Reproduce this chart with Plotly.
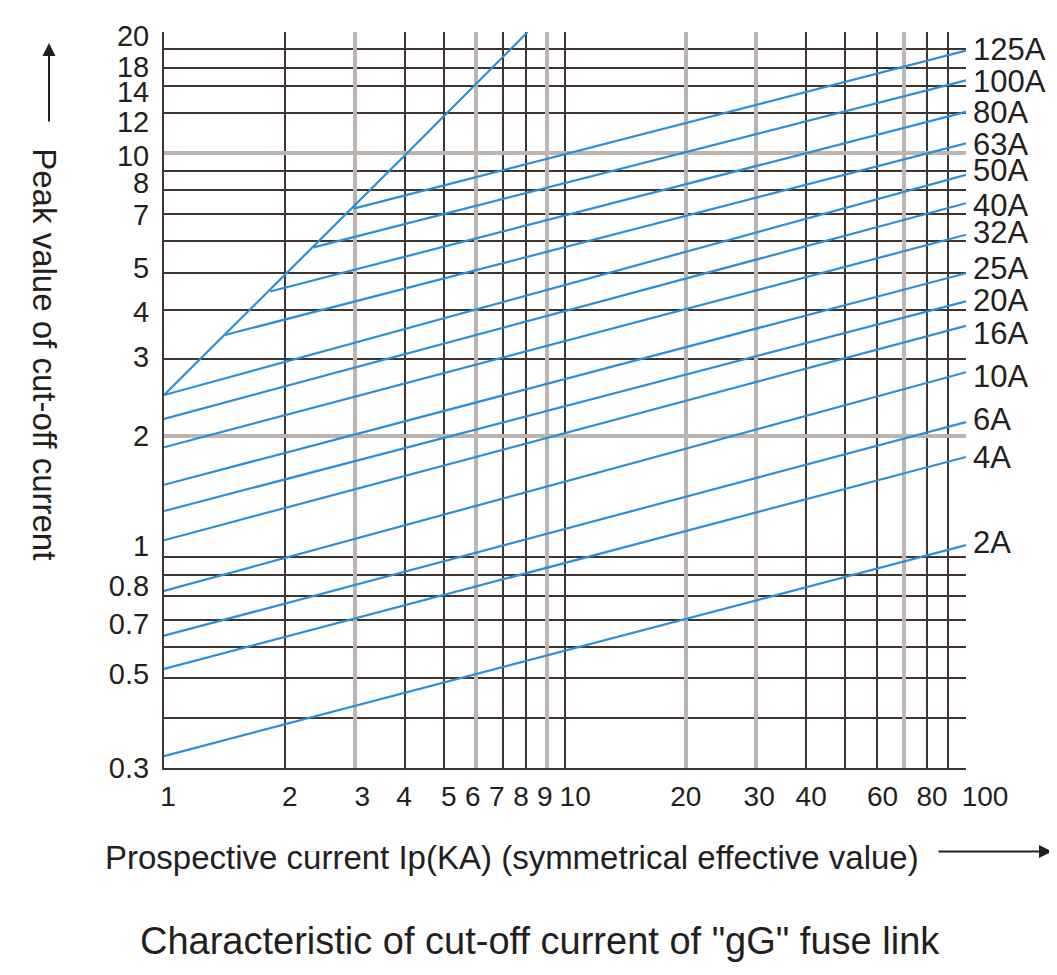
import math
import plotly.graph_objects as go

# ---------------- data ----------------
fuse_labels = ["125A", "100A", "80A", "63A", "50A", "40A", "32A", "25A",
               "20A", "16A", "10A", "6A", "4A", "2A"]
start_x = [2.97, 2.36, 1.84, 1.42, 1, 1, 1, 1, 1, 1, 1, 1, 1, 1]
start_y = [7.3, 5.85, 4.55, 3.55, 2.52, 2.20, 1.87, 1.51, 1.30, 1.10,
           0.824, 0.638, 0.528, 0.321]
end_x = [100] * 14
end_y = [17.98, 15.17, 12.68, 10.59, 8.85, 7.53, 6.29, 5.05, 4.30, 3.74,
         2.87, 2.16, 1.77, 1.07]
label_y = [18.08, 15.11, 12.62, 10.54, 9.06, 7.42, 6.38, 5.18, 4.33, 3.58,
           2.80, 2.19, 1.76, 1.084]

envelope_x = [1, 4.03, 8.07]
envelope_y = [2.52, 10.0, 20]

x_dark_grid = [1, 2, 4, 5, 7, 8, 10, 40, 50, 60, 80, 90, 100]
x_grey_grid = [3, 6, 9, 20, 30, 70]
x_label_vals = [1.023, 2.06, 3.12, 3.97, 5.13, 5.89, 6.76, 7.77, 8.91, 10.6,
                20.0, 30.5, 41.1, 61.9, 82.3]
x_label_text = ["1", "2", "3", "4", "5", "6", "7", "8", "9", "10", "20",
                "30", "40", "60", "80"]
x_end_label_vals = [100]
x_end_label_text = ["100"]

y_dark_grid = [0.3, 0.4, 0.5, 0.6, 0.7, 0.8, 0.9, 1, 3.1, 4.1, 5.05, 6.08,
               7.1, 8.1, 9.05, 12.6, 14.7, 16.3, 18.1]
y_grey_grid = [2, 10, 20]
y_label_vals = [0.3, 0.514, 0.683, 0.847, 1.063, 2.0, 3.13, 4.04, 5.21,
                7.04, 8.44, 9.84, 12.0, 14.21, 16.37, 19.59]
y_label_text = ["0.3", "0.5", "0.7", "0.8", "1", "2", "3", "4", "5", "7",
                "8", "10", "12", "14", "18", "20"]

# ---------------- styles ----------------
BLUE = "#2a8fd8"
DARK = "#3f3430"
GREY = "#bdb5b1"
TEXT = "#231f20"
FONT = "Liberation Sans, Arial, sans-serif"

OFF = 8                      # default page margin around the figure
W, H = 1057 - OFF, 975 - 2 * OFF
ML, MT = 164 - OFF, 28 - OFF
MR = W - (966 - OFF)
MB = H - (768 - OFF)
PW, PH = W - ML - MR, H - MT - MB

fig = go.Figure()
for i, name in enumerate(fuse_labels):
    fig.add_trace(go.Scatter(x=[start_x[i], end_x[i]], y=[start_y[i], end_y[i]],
                             mode="lines", name=name, showlegend=False,
                             line=dict(color=BLUE, width=2.2), hoverinfo="name"))
fig.add_trace(go.Scatter(x=envelope_x, y=envelope_y, mode="lines",
                         showlegend=False, line=dict(color=BLUE, width=2.2),
                         hoverinfo="skip"))
for xa, ya in [("x2", "y2"), ("x3", "y3"), ("x4", "y")]:
    fig.add_trace(go.Scatter(x=[None], y=[None], xaxis=xa, yaxis=ya,
                             showlegend=False, hoverinfo="skip"))

xr = [0, 2]
yr = [math.log10(0.3), math.log10(20)]
common_x = dict(type="log", range=xr, zeroline=False, fixedrange=True)
common_y = dict(type="log", range=yr, zeroline=False, fixedrange=True)
label_x = dict(overlaying="x", anchor="y", side="bottom", tickmode="array",
               showgrid=False, ticks="outside", ticklen=3,
               tickcolor="rgba(0,0,0,0)", tickangle=0,
               tickfont=dict(size=28, family=FONT, color=TEXT), showline=False)

fig.update_layout(
    width=W, height=H, autosize=False,
    margin=dict(l=ML, r=MR, t=MT, b=MB, pad=0),
    paper_bgcolor="white", plot_bgcolor="white",
    font=dict(family=FONT, color=TEXT),
    xaxis=dict(**common_x, tickmode="array", tickvals=x_dark_grid,
               showticklabels=False, ticks="", showgrid=True,
               gridcolor=DARK, gridwidth=1.8, showline=True,
               linecolor=DARK, linewidth=2),
    xaxis2=dict(**common_x, overlaying="x", anchor="y", tickmode="array",
                tickvals=x_grey_grid, showticklabels=False, ticks="",
                showgrid=True, gridcolor=GREY, gridwidth=3.5, showline=False),
    xaxis3=dict(**common_x, **label_x, tickvals=x_label_vals,
                ticktext=x_label_text),
    xaxis4=dict(**common_x, **label_x, tickvals=x_end_label_vals,
                ticktext=x_end_label_text, ticklabelshift=19),
    yaxis=dict(**common_y, tickmode="array", tickvals=y_dark_grid,
               showticklabels=False, ticks="", showgrid=True,
               gridcolor=DARK, gridwidth=1.8, showline=True,
               linecolor=DARK, linewidth=2),
    yaxis2=dict(**common_y, overlaying="y", anchor="x", tickmode="array",
                tickvals=y_grey_grid, showticklabels=False, ticks="",
                showgrid=True, gridcolor=GREY, gridwidth=3.5, showline=False),
    yaxis3=dict(**common_y, overlaying="y", anchor="x", side="left",
                tickmode="array", tickvals=y_label_vals, ticktext=y_label_text,
                showgrid=False, ticks="outside", ticklen=8,
                tickcolor="rgba(0,0,0,0)",
                tickfont=dict(size=29, family=FONT, color=TEXT), showline=False),
)

annotations = []
for name, ly in zip(fuse_labels, label_y):
    annotations.append(dict(x=xr[1], y=math.log10(ly), xref="x", yref="y",
                            text=name, showarrow=False, xanchor="left",
                            yanchor="middle", xshift=5,
                            font=dict(size=31, family=FONT, color=TEXT)))


def px(xp):
    """page x pixel -> paper coordinate"""
    return (xp - OFF - ML) / PW


def py(yp):
    """page y pixel -> paper coordinate"""
    return (H - MB - (yp - OFF)) / PH


annotations += [
    dict(x=px(512), y=py(858), xref="paper", yref="paper", showarrow=False,
         text="Prospective current Ip(KA) (symmetrical effective value)",
         xanchor="center", yanchor="middle",
         font=dict(size=33, family=FONT, color=TEXT)),
    dict(x=px(1052), y=py(852), xref="paper", yref="paper", text="",
         showarrow=True, ax=-115, ay=0, arrowhead=2, arrowsize=1.3,
         arrowwidth=2, arrowcolor=TEXT),
    dict(x=px(45), y=py(352), xref="paper", yref="paper", showarrow=False,
         text="Peak value of cut-off current", textangle=90,
         xanchor="center", yanchor="middle",
         font=dict(size=33, family=FONT, color=TEXT)),
    dict(x=px(49), y=py(39), xref="paper", yref="paper", text="",
         showarrow=True, ax=0, ay=80, arrowhead=2, arrowsize=1.3,
         arrowwidth=2, arrowcolor=TEXT),
    dict(x=px(540), y=py(942), xref="paper", yref="paper", showarrow=False,
         text='Characteristic of cut-off current of "gG" fuse link',
         xanchor="center", yanchor="middle",
         font=dict(size=38, family=FONT, color=TEXT)),
]
fig.update_layout(annotations=annotations)

fig.write_html("out.html")
